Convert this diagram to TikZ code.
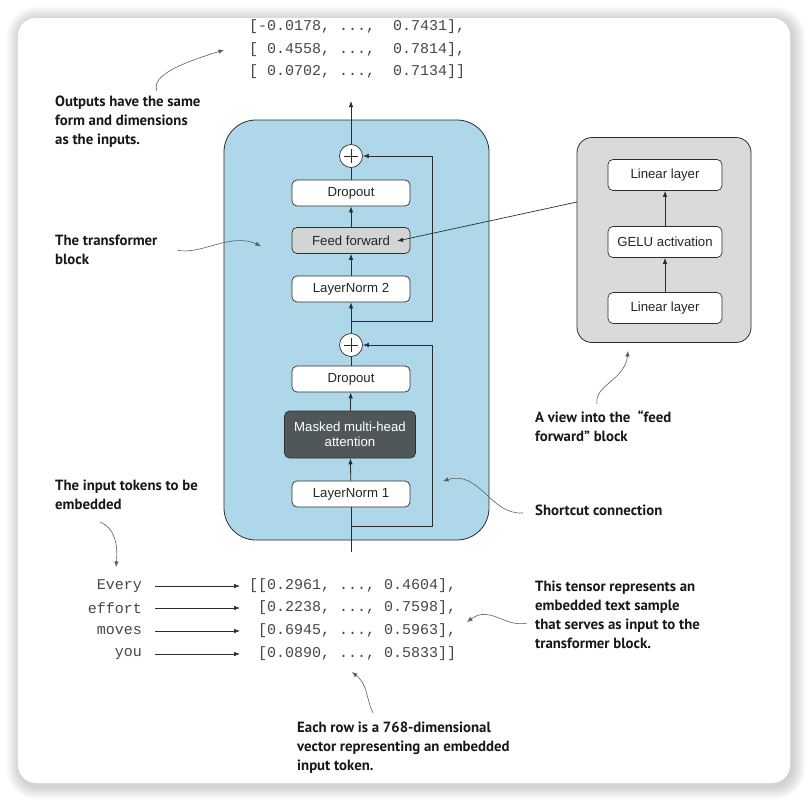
\documentclass[tikz,border=0pt]{standalone}
\usepackage{fontspec}
\setmainfont{Liberation Sans}
\newfontfamily\annfont{PT Sans}
\newfontfamily\monofont{Liberation Mono}
\usetikzlibrary{arrows.meta}
\definecolor{blockblue}{RGB}{174,216,233}
\definecolor{ffgrey}{RGB}{211,213,213}
\definecolor{attdark}{RGB}{80,87,89}
\definecolor{viewgrey}{RGB}{217,218,219}
\definecolor{linec}{RGB}{45,45,45}
\definecolor{anncol}{RGB}{95,95,95}
\definecolor{anntext}{RGB}{25,23,24}
\frenchspacing
\begin{document}
\begin{tikzpicture}[x=1pt,y=-1pt,
  layerbox/.style={draw=linec, line width=0.7pt, rounded corners=5pt, fill=white,
    minimum width=118pt, minimum height=26pt, inner sep=0pt,
    font=\fontsize{13.2}{15.5}\selectfont, text=black!85},
  viewbox/.style={layerbox, minimum width=114pt, minimum height=31pt},
  plusnode/.style={circle, draw=linec, line width=0.7pt, fill=white, minimum size=23pt, inner sep=0pt,
    path picture={\draw[line width=0.9pt] ([xshift=-7pt]path picture bounding box.center) -- ([xshift=7pt]path picture bounding box.center);
      \draw[line width=0.9pt] ([yshift=-7pt]path picture bounding box.center) -- ([yshift=7pt]path picture bounding box.center);}},
  flow/.style={draw=linec, line width=0.8pt},
  arr/.style={flow, -{Latex[length=6pt,width=4.5pt]}},
  ann/.style={draw=anncol, line width=0.6pt, -{Latex[length=5.5pt,width=4.5pt]}},
  anntxt/.style={font=\annfont\bfseries\fontsize{14.8}{19}\selectfont, text=anntext, align=left, anchor=north west, inner sep=0pt},
  mono/.style={font=\monofont\fontsize{15}{18}\selectfont, text=black!72, inner sep=0pt},
]
\useasboundingbox (0,0) rectangle (808,801);
% card with soft shadow
\foreach \i in {1,...,12} {
  \fill[black, opacity=0.016, rounded corners={18pt+\i pt}] ({18-\i*1.1+2},{18-\i*1.1+2}) rectangle ({790+\i*1.1+2},{783+\i*1.1+3});
}
\fill[white, rounded corners=18pt] (18,18) rectangle (790,783);

% transformer block
\node[draw=linec, line width=0.8pt, fill=blockblue, rounded corners=32pt,
  minimum width=265pt, minimum height=420pt, inner sep=0pt] (block) at (356.5,330) {};

\node[layerbox] (ln1) at (351,494) {LayerNorm 1};
\node[layerbox, fill=attdark, text=white, minimum width=131pt, minimum height=47pt, align=center] (att) at (350,434.5) {Masked multi-head\\attention};
\node[layerbox] (drop1) at (351,379) {Dropout};
\node[plusnode] (plus1) at (351,345) {};
\node[layerbox] (ln2) at (351,289) {LayerNorm 2};
\node[layerbox, fill=ffgrey] (ff) at (351,240.5) {Feed forward};
\node[layerbox] (drop2) at (351,193) {Dropout};
\node[plusnode] (plus2) at (351,156) {};

\coordinate (in) at (351,552);
\coordinate (out) at (351,101);
\coordinate (s1) at (351,526);
\coordinate (s2) at (351,321);

\draw[flow] (in) -- (ln1);
\draw[arr] (ln1) -- (att);
\draw[arr] (att) -- (drop1);
\draw[flow] (drop1) -- (plus1);
\draw[arr] (plus1) -- (ln2);
\draw[arr] (ln2) -- (ff);
\draw[arr] (ff) -- (drop2);
\draw[flow] (drop2) -- (plus2);
\draw[arr] (plus2) -- (out);
\draw[arr] (s1) -- ++(81,0) |- (plus1.east);
\draw[arr] (s2) -- ++(81,0) |- (plus2.east);

% feed forward view
\node[draw=linec, line width=0.8pt, fill=viewgrey, rounded corners=15pt,
  minimum width=174pt, minimum height=205pt, inner sep=0pt] (view) at (664,240) {};
\node[viewbox] (lin1) at (665,308) {Linear layer};
\node[viewbox] (gelu) at (665,242) {GELU activation};
\node[viewbox] (lin2) at (665,175) {Linear layer};
\draw[arr] (lin1) -- (gelu);
\draw[arr] (gelu) -- (lin2);
\coordinate (vw) at (577,202);
\coordinate (fftip) at (397,241);
\draw[arr, line width=0.7pt] (vw) -- (fftip);

% output tensor
\node[mono, anchor=west] (o1) at (249,27) {[-0.0178,~...,~~0.7431],};
\node[mono, anchor=west] (o2) at (249,50) {[~0.4558,~...,~~0.7814],};
\node[mono, anchor=west] (o3) at (249,72) {[~0.0702,~...,~~0.7134]]};

% input tokens and tensor
\node[mono, anchor=east] (t1) at (142,586) {Every};
\node[mono, anchor=east] (t2) at (142,608) {effort};
\node[mono, anchor=east] (t3) at (142,631) {moves};
\node[mono, anchor=east] (t4) at (142,654) {you};
\node[mono, anchor=west] (v1) at (249,586) {[[0.2961,~...,~0.4604],};
\node[mono, anchor=west] (v2) at (249,608) {~[0.2238,~...,~0.7598],};
\node[mono, anchor=west] (v3) at (249,631) {~[0.6945,~...,~0.5963],};
\node[mono, anchor=west] (v4) at (249,654) {~[0.0890,~...,~0.5833]]};
\foreach \k in {1,2,3,4} {
  \draw[arr, line width=0.7pt, shorten <=13pt, shorten >=9pt] (t\k.east) -- (t\k.east -| v\k.west);
}

% annotations
\node[anntxt] (aout) at (55,96) {Outputs have the same\\form and dimensions\\as the inputs.};
\node[anntxt] (ablock) at (55,235) {The transformer\\block};
\node[anntxt] (ainput) at (55,480) {The input tokens to be\\embedded};
\node[anntxt] (ashort) at (535,505) {Shortcut connection};
\node[anntxt] (aview) at (535,410) {A view into the~~“feed\\forward” block};
\node[anntxt] (atensor) at (535,581) {This tensor represents an\\embedded text sample\\that serves as input to the\\transformer block.};
\node[anntxt] (arow) at (297,722) {Each row is a 768-dimensional\\vector representing an embedded\\input token.};

\coordinate (c1a) at (157,91);  \coordinate (c1b) at (224,50);
\coordinate (c2a) at (177,250); \coordinate (c2b) at (261,246);
\coordinate (c3a) at (100,522); \coordinate (c3b) at (116,567);
\coordinate (c4a) at (523,513); \coordinate (c4b) at (443,481);
\coordinate (c5a) at (597,404); \coordinate (c5b) at (628,351);
\coordinate (c6a) at (527,623); \coordinate (c6b) at (467,622);
\coordinate (c7a) at (373,713); \coordinate (c7b) at (352,672);
\draw[ann] (c1a) .. controls (150,75) and (185,62) .. (c1b);
\draw[ann] (c2a) .. controls (200,256) and (230,232) .. (c2b);
\draw[ann] (c3a) .. controls (115,528) and (118,545) .. (c3b);
\draw[ann] (c4a) .. controls (490,515) and (480,470) .. (c4b);
\draw[ann] (c5a) .. controls (594,385) and (625,380) .. (c5b);
\draw[ann] (c6a) .. controls (505,628) and (490,605) .. (c6b);
\draw[ann] (c7a) .. controls (365,695) and (368,685) .. (c7b);
\end{tikzpicture}
\end{document}
